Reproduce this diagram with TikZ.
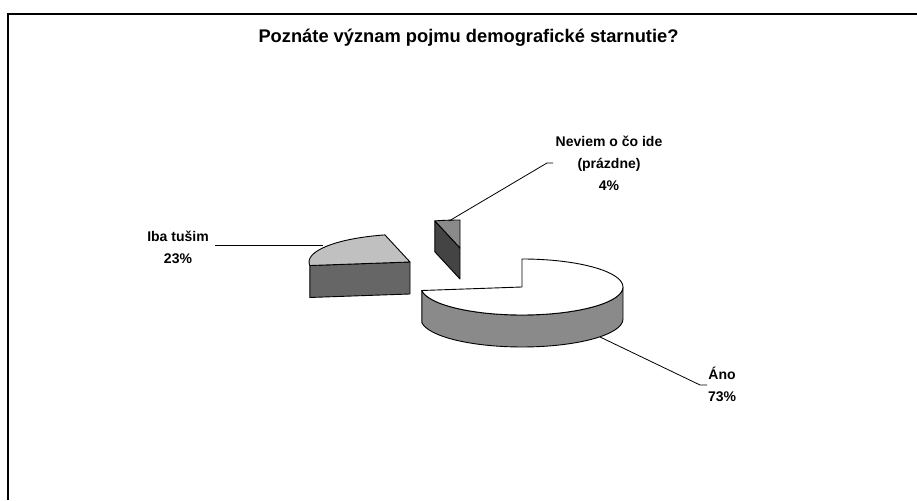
\documentclass[tikz,border=0pt]{standalone}
\usepackage{fontspec}
\setmainfont{Liberation Sans}
\definecolor{mainside}{HTML}{8A8A8A}
\definecolor{ibatop}{HTML}{C0C0C0}
\definecolor{ibaside}{HTML}{666666}
\definecolor{nevtop}{HTML}{8A8A8A}
\definecolor{nevside}{HTML}{444444}
\begin{document}
\begin{tikzpicture}[x=1pt,y=1pt,
  slice/.style={draw=black,line width=0.9pt,line join=round},
  leader/.style={draw=black,line width=0.8pt},
  lbl/.style={align=center,font=\bfseries\fontsize{14}{22}\selectfont,inner sep=0pt},
  frameline/.style={draw=black,line width=1.6pt}]
\useasboundingbox (0,0) rectangle (917,500);
% frame
\draw[frameline] (8,0) -- (8,486) -- (917,486);
% title
\node[anchor=base,font=\bfseries\fontsize{18.3}{22}\selectfont,inner sep=0pt] (title) at (468.5,457) {Poznáte význam pojmu demografické starnutie?};
% main slice (Ano 73%)
\coordinate (M) at (522,213);
\fill[mainside] (421.8,209.5) arc[start angle=-172.8,end angle=0,x radius=101,y radius=28] -- ++(0,-32) arc[start angle=0,end angle=-172.8,x radius=101,y radius=28] -- cycle;
\draw[slice] (421.8,209.5) arc[start angle=-172.8,end angle=0,x radius=101,y radius=28] -- ++(0,-32) arc[start angle=0,end angle=-172.8,x radius=101,y radius=28] -- cycle;
\draw[slice,fill=white] (M) -- (522,241) arc[start angle=90,end angle=-172.8,x radius=101,y radius=28] -- cycle;
% Iba tusim slice 23%
\coordinate (C2) at (410,238);
\coordinate (P2a) at (309.8,234.5);
\draw[slice,fill=ibaside] (C2) -- (P2a) -- ++(0,-32) -- ([yshift=-32pt]C2) -- cycle;
\draw[slice,fill=ibatop] (C2) -- (384.9,265.1) arc[start angle=104.4,end angle=187.2,x radius=101,y radius=28] -- cycle;
% Neviem slice 4%
\coordinate (C3) at (460,252);
\coordinate (P3a) at (434.9,279.1);
\draw[slice,fill=nevside] (C3) -- (P3a) -- ++(0,-31) -- ([yshift=-31pt]C3) -- cycle;
\draw[slice,fill=nevtop] (C3) -- (460,280) arc[start angle=90,end angle=104.4,x radius=101,y radius=28] -- cycle;
% labels
\node[lbl] (lIba) at (178,252.5) {Iba tušim\\23\%};
\node[lbl] (lNev) at (609,337) {Neviem o čo ide\\(prázdne)\\4\%};
\node[lbl] (lAno) at (722,116) {Áno\\73\%};
% leaders
\coordinate (iS) at (323,254.3);
\coordinate (iE) at (215,254.3);
\draw[leader] (iS) -- (iE);
\coordinate (nS) at (449,279);
\coordinate (nK) at (547,337);
\coordinate (nE) at (553,337);
\draw[leader] (nS) -- (nK) -- (nE);
\coordinate (aS) at (600,163);
\coordinate (aK) at (700,115);
\coordinate (aE) at (707,115);
\draw[leader] (aS) -- (aK) -- (aE);
\end{tikzpicture}
\end{document}
